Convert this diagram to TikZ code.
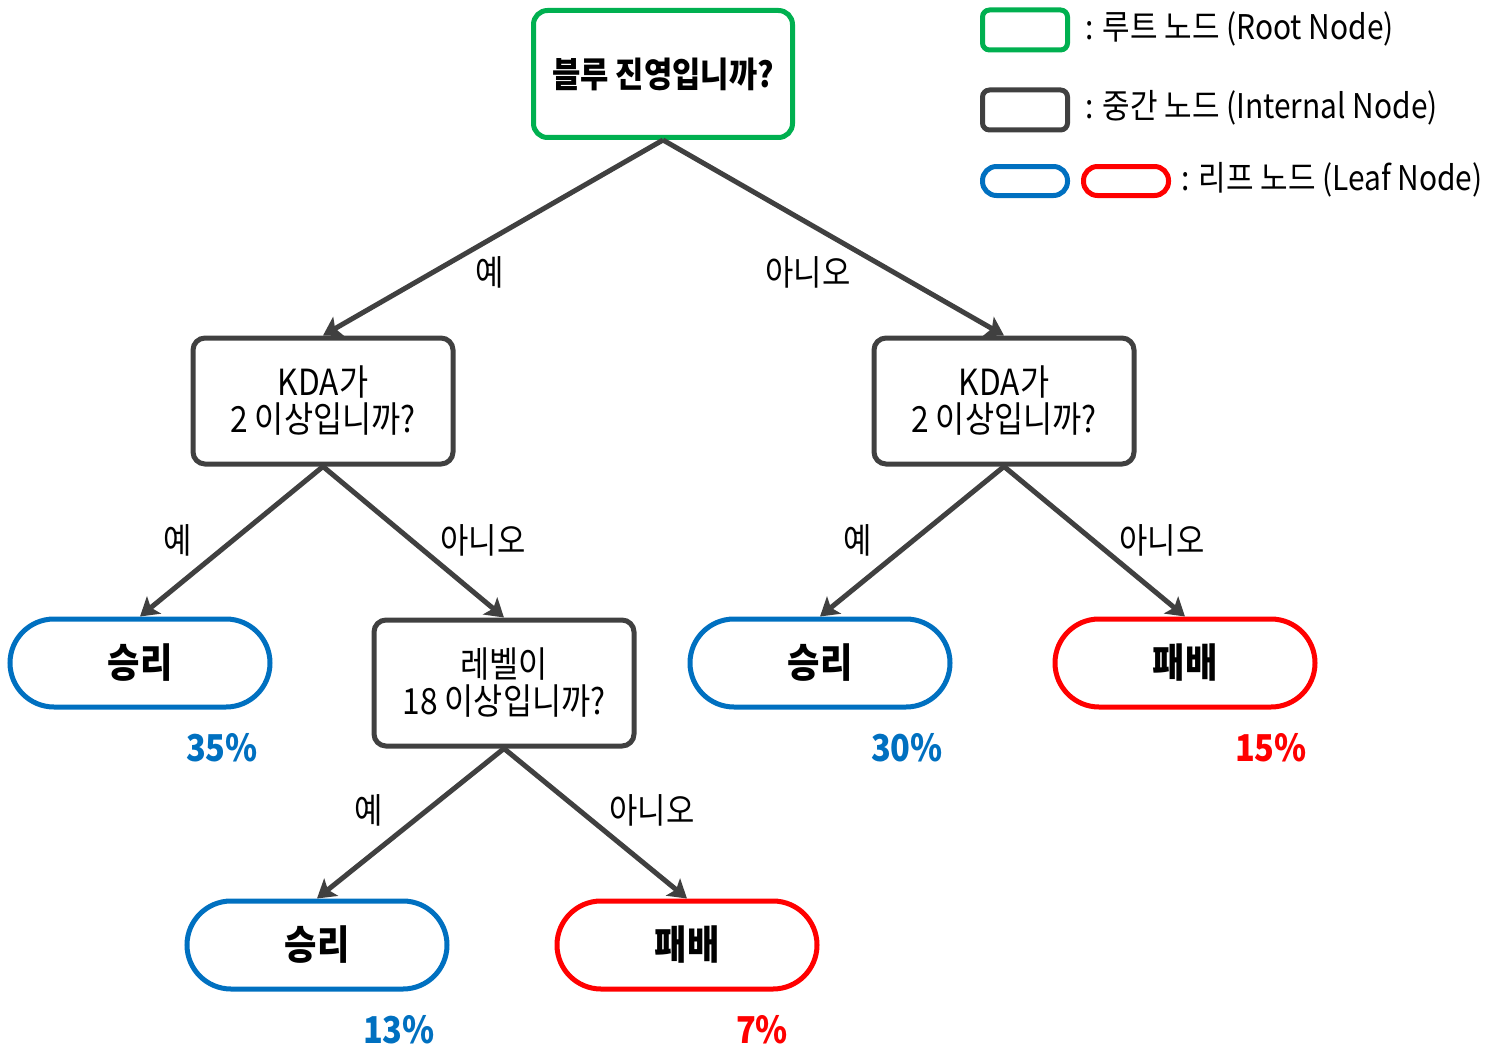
\documentclass[tikz,border=0pt]{standalone}
\usepackage{fontspec}
\setmainfont{Noto Sans CJK KR}[FakeStretch=0.88]
\usetikzlibrary{arrows.meta}
\definecolor{rootgreen}{RGB}{0,176,80}
\definecolor{edgegray}{RGB}{64,64,64}
\definecolor{winblue}{RGB}{0,112,192}
\definecolor{losered}{RGB}{255,0,0}

\begin{document}
\begin{tikzpicture}[x=1pt,y=-1pt,
  rootbox/.style={draw=rootgreen,line width=5pt,rounded corners=14pt,
    minimum width=259pt,minimum height=127pt,
    font=\fontsize{35}{40}\selectfont\bfseries},
  innerbox/.style={draw=edgegray,line width=5pt,rounded corners=12pt,
    minimum width=260pt,minimum height=126pt,align=center,
    font=\fontsize{36}{37}\selectfont},
  leafbox/.style={line width=5pt,rounded corners=44pt,
    minimum width=260pt,minimum height=88pt,
    font=\fontsize{40}{44}\selectfont\bfseries},
  winleaf/.style={leafbox,draw=winblue},
  loseleaf/.style={leafbox,draw=losered},
  pct/.style={font=\fontsize{37}{40}\selectfont\bfseries},
  edge/.style={draw=edgegray,line width=5pt,
    -{Stealth[length=18pt,width=22pt,inset=4pt]}},
  edgelabel/.style={font=\fontsize{35}{38}\selectfont},
  keytext/.style={anchor=west,font=\fontsize{34}{36}\selectfont}]
  \useasboundingbox (0,0) rectangle (1496,1054);

  % tree
  \node[rootbox] (blue) at (663,74) {블루 진영입니까?};
  \node[innerbox] (kdaL) at (323,401) {KDA가\\2 이상입니까?};
  \node[innerbox] (kdaR) at (1004,401) {KDA가\\2 이상입니까?};
  \node[winleaf] (winA) at (140,663) {승리};
  \node[innerbox] (lvl) at (504,683) {레벨이\\18 이상입니까?};
  \node[winleaf] (winB) at (820,663) {승리};
  \node[loseleaf] (loseB) at (1185,663) {패배};
  \node[winleaf] (winC) at (317,945) {승리};
  \node[loseleaf] (loseC) at (687,945) {패배};

  \draw[edge] (blue.south) -- (kdaL.north);
  \draw[edge] (blue.south) -- (kdaR.north);
  \draw[edge] (kdaL.south) -- (winA.north);
  \draw[edge] (kdaL.south) -- (lvl.north);
  \draw[edge] (kdaR.south) -- (winB.north);
  \draw[edge] (kdaR.south) -- (loseB.north);
  \draw[edge] (lvl.south) -- (winC.north);
  \draw[edge] (lvl.south) -- (loseC.north);

  \node[edgelabel] (yesA) at (490,272) {예};
  \node[edgelabel] (noA) at (808,272) {아니오};
  \node[edgelabel] (yesB) at (178,540) {예};
  \node[edgelabel] (noB) at (483,540) {아니오};
  \node[edgelabel] (yesC) at (858,540) {예};
  \node[edgelabel] (noC) at (1162,540) {아니오};
  \node[edgelabel] (yesD) at (369,810) {예};
  \node[edgelabel] (noD) at (652,810) {아니오};

  % shares
  \node[pct,text=winblue] (pctA) at (222,748) {35\%};
  \node[pct,text=winblue] (pctB) at (907,748) {30\%};
  \node[pct,text=losered] (pctC) at (1271,748) {15\%};
  \node[pct,text=winblue] (pctD) at (399,1030) {13\%};
  \node[pct,text=losered] (pctE) at (762,1030) {7\%};

  % legend
  \node[rootbox,minimum width=85pt,minimum height=40pt,rounded corners=7pt] (keyRoot) at (1025,30) {};
  \node[innerbox,minimum width=85pt,minimum height=40pt,rounded corners=7pt] (keyInner) at (1025,110) {};
  \node[winleaf,minimum width=85pt,minimum height=29pt,rounded corners=14pt] (keyWin) at (1025,181) {};
  \node[loseleaf,minimum width=85pt,minimum height=29pt,rounded corners=14pt] (keyLose) at (1126,181) {};
  \node[keytext] (keyRootTxt) at (1082,29) {: 루트 노드 (Root Node)};
  \node[keytext] (keyInnerTxt) at (1082,108) {: 중간 노드 (Internal Node)};
  \node[keytext] (keyLeafTxt) at (1178,180) {: 리프 노드 (Leaf Node)};
\end{tikzpicture}
\end{document}
